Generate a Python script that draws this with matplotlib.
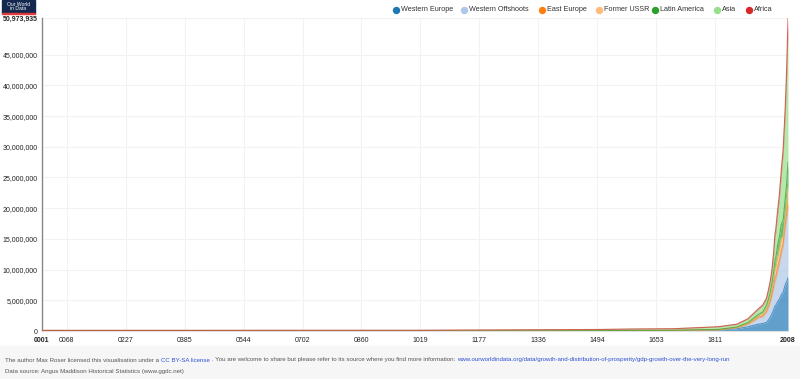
import numpy as np
import matplotlib
matplotlib.use("Agg")
import matplotlib.pyplot as plt
from matplotlib.lines import Line2D
from matplotlib.patches import Rectangle

plt.rcParams['font.family'] = ['Liberation Sans', 'DejaVu Sans']

# --- DATA (GDP, million 1990 int. $) ---
years = [1, 1000, 1500, 1600, 1700, 1820, 1870, 1900, 1913, 1929, 1940, 1950, 1955,
         1960, 1965, 1970, 1973, 1975, 1980, 1985, 1990, 1995, 2000, 2003, 2005, 2008]

western_europe = [14433, 10165, 44183, 65602, 81213, 160145, 367588, 675000, 902341,
                  1120000, 1220000, 1396188, 1750000, 2230000, 2820000, 3560000, 4096456,
                  4150000, 4750000, 5200000, 5880000, 6300000, 7430000, 7857000, 8100000,
                  8700000]
western_offshoots = [468, 784, 1120, 1130, 1233, 13548, 111525, 370000, 582941,
                     1000000, 1050000, 1635490, 1950000, 2250000, 2850000, 3450000, 4058289,
                     4100000, 4900000, 5600000, 6580000, 7380000, 8970000, 9900000, 10400000,
                     11100000]
east_europe = [1956, 2600, 6696, 9289, 11393, 24906, 50163, 90000, 134793,
               150000, 180000, 185023, 240000, 310000, 380000, 470000, 550756,
               600000, 690000, 710000, 660000, 620000, 690000, 786000, 900000,
               1200000]
former_ussr = [1560, 2840, 8458, 11426, 16196, 37678, 83646, 155000, 232351,
               260000, 420000, 510243, 650000, 840000, 1010000, 1350000, 1513070,
               1560000, 1710000, 1860000, 1988000, 1150000, 1230000, 1450000, 1750000,
               2500000]
latin_america = [2240, 4560, 7288, 3763, 6346, 14921, 27505, 70000, 119883,
                 180000, 230000, 416169, 510000, 630000, 790000, 1040000, 1389900,
                 1500000, 1960000, 2020000, 2240000, 2580000, 2940000, 3030000, 3350000,
                 4000000]
asia = [77056, 81327, 161636, 216396, 228617, 411853, 421459, 560000, 678888,
        850000, 980000, 985633, 1250000, 1500000, 1850000, 2950000, 3730000,
        4000000, 4900000, 6200000, 8000000, 10700000, 13300000, 15900000, 18000000,
        21470000]
africa = [8030, 13720, 19380, 23000, 25700, 31200, 45234, 60000, 79486,
          110000, 150000, 203131, 240000, 285000, 350000, 450000, 549993,
          580000, 680000, 740000, 890000, 950000, 1090000, 1320000, 1500000,
          2000000]

series_names = ["Western Europe", "Western Offshoots", "East Europe", "Former USSR",
                "Latin America", "Asia", "Africa"]
series_values = [western_europe, western_offshoots, east_europe, former_ussr,
                 latin_america, asia, africa]
colors = ["#1f77b4", "#aec7e8", "#ff7f0e", "#ffbb78", "#2ca02c", "#98df8a", "#d62728"]

x_ticks = [1, 68, 227, 385, 544, 702, 860, 1019, 1177, 1336, 1494, 1653, 1811, 2008]
y_ticks = [0, 5000000, 10000000, 15000000, 20000000, 25000000, 30000000, 35000000,
           40000000, 45000000, 50973935]

# --- FIGURE ---
W, H = 800, 379
fig = plt.figure(figsize=(8, 3.79), dpi=100)
ax = fig.add_axes([42 / W, 1 - 331 / H, (788 - 42) / W, (331 - 18) / H])

x = np.array(years, dtype=float)
base = np.zeros(len(years))
for name, vals, col in zip(series_names, series_values, colors):
    top = base + np.array(vals, dtype=float)
    ax.fill_between(x, base, top, color=col, alpha=0.7, linewidth=0, zorder=2)
    ax.plot(x, top, color=col, linewidth=0.8, alpha=0.7, zorder=3)
    base = top

ax.set_xlim(1, 2008)
ax.set_ylim(0, 50973935)

ax.set_xticks(x_ticks)
ax.set_xticklabels([f"{t:04d}" for t in x_ticks], fontsize=5, color="#222222")
ax.set_yticks(y_ticks)
ax.set_yticklabels([f"{t:,}" for t in y_ticks], fontsize=5, color="#222222")
for lab in (ax.get_xticklabels()[0], ax.get_xticklabels()[-1], ax.get_yticklabels()[-1]):
    lab.set_fontweight("bold")
ax.tick_params(axis="both", length=0)
ax.tick_params(axis="y", pad=3)
ax.tick_params(axis="x", pad=4)

ax.grid(True, color="#f2f2f2", linewidth=0.8, zorder=0)
ax.set_axisbelow(True)
for side in ("top", "right"):
    ax.spines[side].set_visible(False)
ax.spines["left"].set_color("#888888")
ax.spines["left"].set_linewidth(1.0)
ax.spines["bottom"].set_color("#e0e0e0")
ax.spines["bottom"].set_linewidth(0.8)

# --- LEGEND (top right) ---
legend_x = [396, 464, 542, 599, 655, 717, 749]
for lx, name, col in zip(legend_x, series_names, colors):
    fig.add_artist(Line2D([lx / W], [1 - 9.5 / H], marker="o", markersize=4.3,
                          color=col, linestyle="none", transform=fig.transFigure))
    fig.text((lx + 5) / W, 1 - 9.5 / H, name, fontsize=5.2, color="#333333",
             va="center", ha="left")

# --- LOGO ---
fig.add_artist(Rectangle((2 / W, 1 - 12.5 / H), 33 / W, 12.5 / H, color="#142850",
                         transform=fig.transFigure))
fig.add_artist(Rectangle((2 / W, 1 - 14 / H), 33 / W, 1.5 / H, color="#e03a3a",
                         transform=fig.transFigure))
fig.text(18.5 / W, 1 - 6.5 / H, "Our World\nin Data", fontsize=3.6, color="white",
         ha="center", va="center", linespacing=0.85)

# --- FOOTER ---
fig.add_artist(Rectangle((0, 0), 1, (H - 346) / H, color="#f6f6f6",
                         transform=fig.transFigure, zorder=0))
pieces = [
    ("The author Max Roser licensed this visualisation under a ", "#555555"),
    ("CC BY-SA license", "#2d4fd6"),
    (" . You are welcome to share but please refer to its source where you find more information: ", "#555555"),
    ("www.ourworldindata.org/data/growth-and-distribution-of-prosperity/gdp-growth-over-the-very-long-run", "#2d4fd6"),
]
fig.canvas.draw()
renderer = fig.canvas.get_renderer()
cx = 5
for txt, col in pieces:
    t = fig.text(cx / W, 1 - 360 / H, txt, fontsize=4.45, color=col, va="center", ha="left")
    bb = t.get_window_extent(renderer=renderer)
    cx += bb.width
fig.text(5 / W, 1 - 372 / H, "Data source: Angus Maddison Historical Statistics (www.ggdc.net)",
         fontsize=4.45, color="#555555", va="center", ha="left")

fig.savefig("out.png", dpi=100)
